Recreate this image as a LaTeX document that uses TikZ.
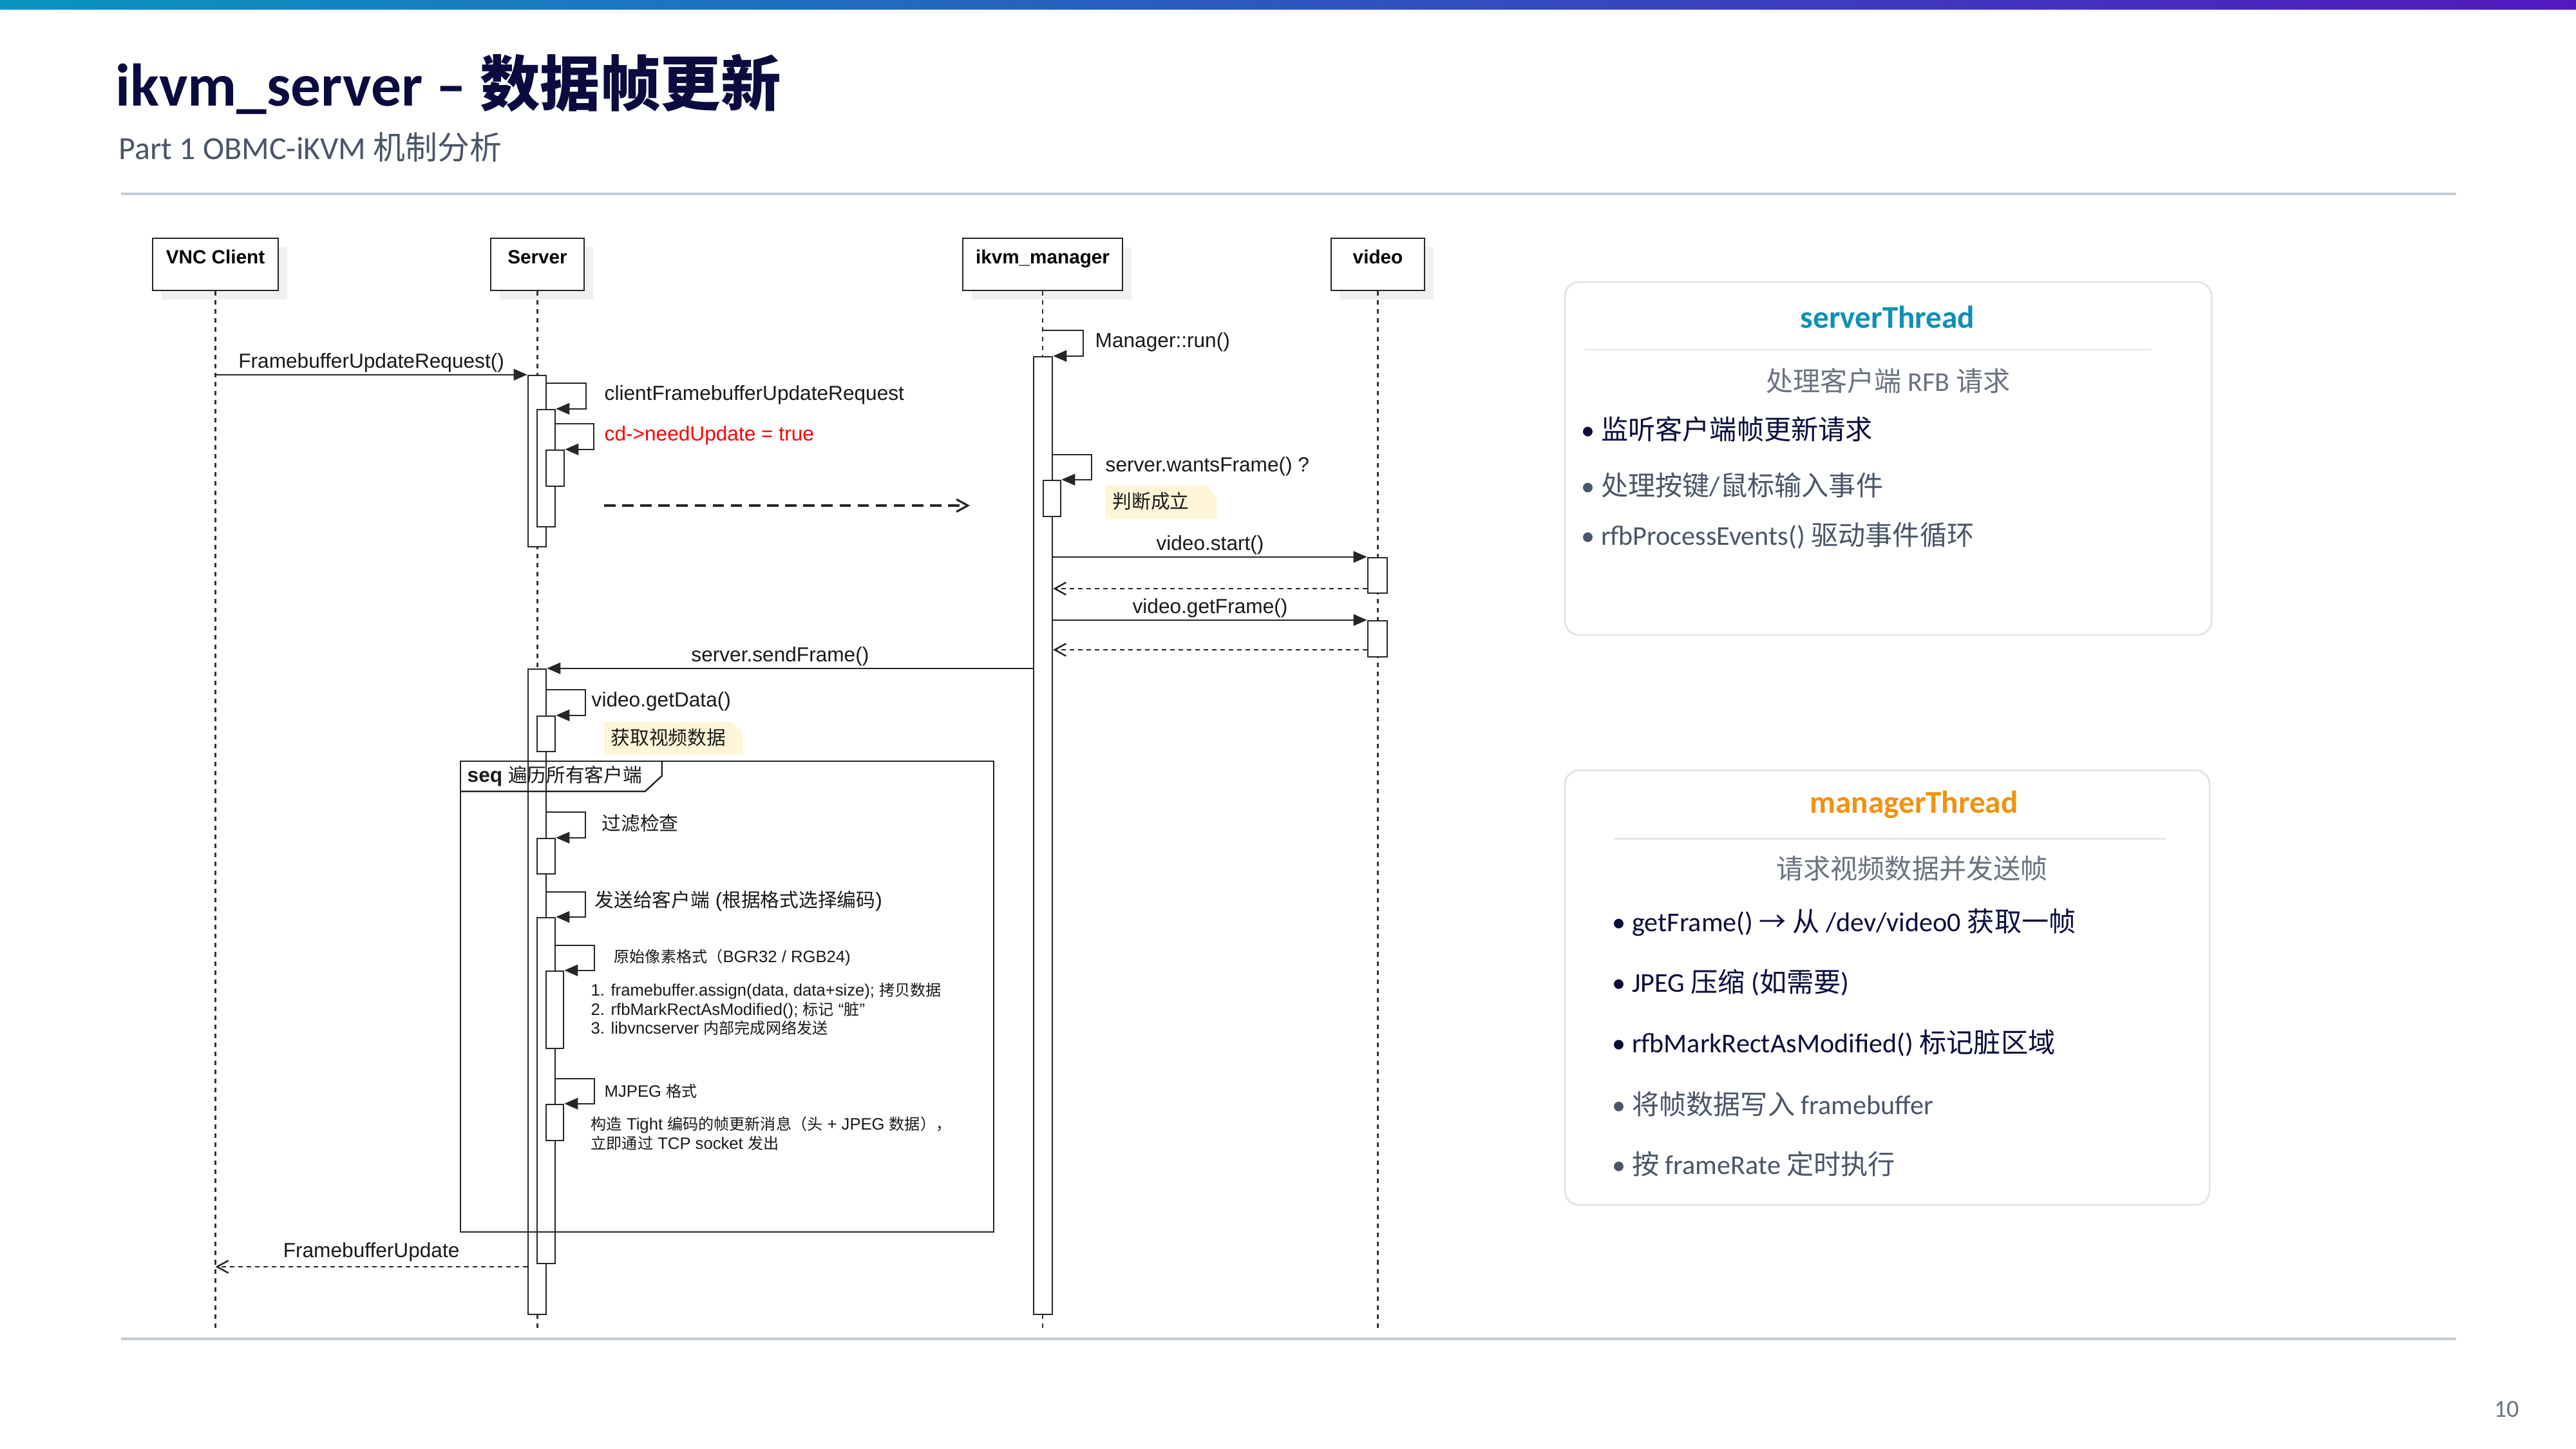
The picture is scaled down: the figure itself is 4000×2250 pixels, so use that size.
\documentclass[tikz,border=0pt]{standalone}
\usepackage{fontspec}
\setmainfont{Carlito}
\newfontfamily\umlfont{Liberation Sans}
\newfontfamily\zhfont{Noto Sans CJK SC}
\newfontfamily\zhfontd{Noto Sans CJK SC}[Scale=0.94]
\usetikzlibrary{arrows.meta,fit,shadows}

% Chinese characters are set in the CJK font
\def\zhsel{\zhfont}
\XeTeXinterchartokenstate=1
\newXeTeXintercharclass\zhclass
\newcount\zhc
\def\zhrange#1#2{\zhc=#1\relax\loop\ifnum\zhc<#2\relax\XeTeXcharclass\zhc=\zhclass\advance\zhc by 1\repeat}
\zhrange{"3000}{"3040}
\zhrange{"4E00}{"A000}
\zhrange{"FF00}{"FFF0}
\XeTeXcharclass"2192=\zhclass
\XeTeXinterchartoks 0 \zhclass={\begingroup\zhsel}
\XeTeXinterchartoks 4095 \zhclass={\begingroup\zhsel}
\XeTeXinterchartoks \zhclass 0={\endgroup}
\XeTeXinterchartoks \zhclass 4095={\endgroup}

\definecolor{navy}{HTML}{0B0B3F}
\definecolor{slate}{HTML}{4A5568}
\definecolor{grey6}{HTML}{6B7280}
\definecolor{rule}{HTML}{C5CCD8}
\definecolor{panelline}{HTML}{E1E5EC}
\definecolor{tealc}{HTML}{0E8FBA}
\definecolor{orangec}{HTML}{F0920E}
\definecolor{notebg}{HTML}{FFF5D8}
\definecolor{barl}{HTML}{0A94C0}
\definecolor{barm}{HTML}{3A62C5}
\definecolor{barr}{HTML}{5218BE}

\tikzstyle{head}=[
    draw=black!85,
    fill=white,
    line width=0.7pt,
    inner xsep=0pt,
    inner ysep=0pt,
    text height=3.97mm,
    text depth=4.13mm,
    font=\umlfont\bfseries\fontsize{8.45}{10}\selectfont,
    drop shadow={shadow xshift=1.4mm, shadow yshift=-1.4mm, fill=black!6, opacity=1}
]
\tikzstyle{lifeline}=[
    draw=black!80,
    line width=0.6pt,
    dash pattern=on 2pt off 2pt
]
\tikzstyle{act}=[
    draw=black!85,
    fill=white,
    line width=0.7pt,
    inner sep=0pt
]
\tikzstyle{msg}=[
    draw=black!85,
    line width=0.7pt,
    -{Triangle[length=6pt,width=5pt]}
]
\tikzstyle{ret}=[
    draw=black!85,
    line width=0.7pt,
    dash pattern=on 2pt off 1.7pt,
    -{Straight Barb[length=5pt,width=5.5pt]}
]
\tikzstyle{lbl}=[
    inner sep=0pt,
    text=black!90,
    font=\umlfont\let\zhsel\zhfontd\fontsize{9}{11}\selectfont
]
\tikzstyle{small}=[
    inner sep=0pt,
    text=black!90,
    align=left,
    font=\umlfont\let\zhsel\zhfontd\fontsize{7.3}{8.5}\selectfont
]
\tikzstyle{panel}=[
    draw=panelline,
    line width=0.85pt,
    fill=white,
    rounded corners=2.2mm,
    inner sep=0pt
]
\tikzstyle{ptitle}=[
    inner sep=0pt,
    font=\bfseries\fontsize{14}{16}\selectfont
]
\tikzstyle{psub}=[
    inner sep=0pt,
    text=grey6,
    font=\fontsize{12}{14}\selectfont
]
\tikzstyle{pitem}=[
    inner sep=0pt,
    anchor=west,
    font=\fontsize{12}{14}\selectfont
]

\begin{document}
\begin{tikzpicture}[x=0.1mm,y=-0.1mm]
\fill[white] (0,0) rectangle (4000,2250);
\useasboundingbox (0,0) rectangle (4000,2250);
\shade[left color=barl, middle color=barm, right color=barr] (0,0) rectangle (4000,15);

\node[anchor=base west, inner sep=0pt, text=navy, font=\bfseries\fontsize{26.6}{30}\selectfont] (title) at (179,165) {ikvm\_server – 数据帧更新};
\node[anchor=base west, inner sep=0pt, text=slate, font=\fontsize{14.2}{16}\selectfont] (subtitle) at (184,248) {Part 1 OBMC-iKVM 机制分析};
\draw[rule, line width=1.1pt] (188,301) -- (3814,301);
\draw[rule, line width=1.1pt] (188,2079) -- (3814,2079);
\node[text=grey6, inner sep=0pt, font=\fontsize{10.8}{13}\selectfont] (page) at (3892,2188) {10};

% thread panels
\node[panel, fit={(2430,438) (3434,986)}] (p1) {};
\node[ptitle, text=tealc] (t1) at (2931,492) {serverThread};
\draw[panelline, line width=0.85pt] (2461,543) -- (3341,543);
\node[psub] (st1) at (2932,591) {处理客户端 RFB 请求};
\node[pitem, text=navy] (b11) at (2455,666) {• 监听客户端帧更新请求};
\node[pitem, text=slate] (b12) at (2455,753) {• 处理按键/鼠标输入事件};
\node[pitem, text=slate] (b13) at (2455,832) {• rfbProcessEvents() 驱动事件循环};

\node[panel, fit={(2430,1196) (3431,1871)}] (p2) {};
\node[ptitle, text=orangec] (t2) at (2972,1249) {managerThread};
\draw[panelline, line width=0.85pt] (2507,1302) -- (3363,1302);
\node[psub] (st2) at (2969,1349) {请求视频数据并发送帧};
\node[pitem, text=navy] (b21) at (2503,1432) {• getFrame() → 从 /dev/video0 获取一帧};
\node[pitem, text=navy] (b22) at (2503,1526) {• JPEG 压缩 (如需要)};
\node[pitem, text=navy] (b23) at (2503,1620) {• rfbMarkRectAsModified() 标记脏区域};
\node[pitem, text=slate] (b24) at (2503,1714) {• 将帧数据写入 framebuffer};
\node[pitem, text=slate] (b25) at (2503,1807) {• 按 frameRate 定时执行};

% lifelines
\node[head, minimum width=19.5mm] (vnc) at (334.5,410.5) {VNC Client};
\node[head, minimum width=14.5mm] (srv) at (834.5,410.5) {Server};
\node[head, minimum width=24.8mm] (mgr) at (1619,410.5) {ikvm\_manager};
\node[head, minimum width=14.5mm] (vid) at (2139.5,410.5) {video};
\coordinate (bot) at (0,2066);
\draw[lifeline] (vnc.south) -- (vnc.south |- bot);
\draw[lifeline] (srv.south) -- (srv.south |- bot);
\draw[lifeline] (mgr.south) -- (mgr.south |- bot);
\draw[lifeline] (vid.south) -- (vid.south |- bot);

% activations
\node[act, fit={(820,583) (848,849)}] (s1) {};
\node[act, fit={(834,636) (862,818)}] (s2) {};
\node[act, fit={(848,699) (876,755)}] (s3) {};
\node[act, fit={(820,1039) (848,2041)}] (s4) {};
\node[act, fit={(834,1112) (862,1167)}] (s5) {};
\node[act, fit={(834,1302) (862,1357)}] (s6) {};
\node[act, fit={(834,1425) (862,1962)}] (s7) {};
\node[act, fit={(848,1508) (875,1628)}] (s8) {};
\node[act, fit={(848,1715) (875,1771)}] (s9) {};
\node[act, fit={(1605,554) (1634,2041)}] (m1) {};
\node[act, fit={(1620,746) (1647,802)}] (m2) {};
\node[act, fit={(2124,866) (2154,921)}] (v1) {};
\node[act, fit={(2124,964) (2154,1020)}] (v2) {};

% messages
\draw[msg] (vnc.south |- s1.north) -- node[lbl, midway, anchor=base, yshift=3pt] (fbur) {FramebufferUpdateRequest()} (s1.north west);
\draw[msg] (s1.east |- s2.north) ++(0,-40) -- ++(61,0) -- ++(0,40) -- (s2.north east);
\draw[msg] (s2.east |- s3.north) ++(0,-40) -- ++(59,0) -- ++(0,40) -- (s3.north east);
\coordinate (d1) at (938,785);
\coordinate (d2) at (1506,785);
\draw[ret, dash pattern=on 5pt off 3pt, line width=0.9pt] (d1) -- (d2);

\draw[msg] (mgr.south |- m1.north) ++(0,-40) -- ++(63,0) -- ++(0,40) -- (m1.north east);
\draw[msg] (m1.east |- m2.north) ++(0,-39) -- ++(60,0) -- ++(0,39) -- (m2.north east);
\draw[msg] (m1.east |- v1.north) -- node[lbl, midway, anchor=base, yshift=3pt] (vstart) {video.start()} (v1.north west);
\draw[ret] (v1.west |- 0,914) -- (m1.east |- 0,914);
\draw[msg] (m1.east |- v2.north) -- node[lbl, midway, anchor=base, yshift=3pt] (vget) {video.getFrame()} (v2.north west);
\draw[ret] (v2.west |- 0,1009) -- (m1.east |- 0,1009);
\draw[msg] (m1.west |- s4.north) -- node[lbl, pos=0.52, anchor=base, yshift=3pt] (send) {server.sendFrame()} (s4.north east);

\draw[msg] (s4.east |- s5.north) ++(0,-40) -- ++(60,0) -- ++(0,40) -- (s5.north east);
\draw[msg] (s4.east |- s6.north) ++(0,-40) -- ++(60,0) -- ++(0,40) -- (s6.north east);
\draw[msg] (s4.east |- s7.north) ++(0,-39) -- ++(60,0) -- ++(0,39) -- (s7.north east);
\draw[msg] (s7.east |- s8.north) ++(0,-39) -- ++(60,0) -- ++(0,39) -- (s8.north east);
\draw[msg] (s7.east |- s9.north) ++(0,-39) -- ++(60,0) -- ++(0,39) -- (s9.north east);
\draw[ret] (s4.west |- 0,1967) -- node[lbl, midway, anchor=base, yshift=4pt] (fbu) {FramebufferUpdate} (vnc.south |- 0,1967);

% notes
\fill[notebg] (1717,753) -- (1872,753) -- (1889,772) -- (1889,806) -- (1717,806) -- cycle;
\fill[notebg] (938,1121) -- (1137,1121) -- (1153,1137) -- (1153,1171) -- (938,1171) -- cycle;
\node[lbl, anchor=west] (n1) at (1727,778) {判断成立};
\node[lbl, anchor=west] (n2) at (948,1145) {获取视频数据};

% loop frame
\node[draw=black!85, line width=0.7pt, inner sep=0pt, fit={(715,1182) (1543,1913)}] (seq) {};
\draw[black!85, line width=0.7pt] (seq.north west) ++(314,0) -- ++(0,24) -- ++(-26,24) -- ++(-288,0);
\node[lbl, anchor=west] (seqlbl) at (725,1205) {\textbf{seq} 遍历所有客户端};

% call labels
\node[lbl, anchor=west] (l1) at (938,613) {clientFramebufferUpdateRequest};
\node[lbl, anchor=west, text=red] (l2) at (938,676) {cd->needUpdate = true};
\node[lbl, anchor=west] (l3) at (1700,531) {Manager::run()};
\node[lbl, anchor=west] (l4) at (1716,724) {server.wantsFrame() ?};
\node[lbl, anchor=west] (l5) at (918,1089) {video.getData()};
\node[lbl, anchor=west] (l6) at (934,1278) {过滤检查};
\node[lbl, anchor=west] (l7) at (923,1399) {发送给客户端 (根据格式选择编码)};
\node[small, anchor=west] (l8) at (953,1487) {原始像素格式（BGR32 / RGB24)};
\node[small, anchor=west] (l9) at (917,1567) {1. framebuffer.assign(data, data+size); 拷贝数据\\2. rfbMarkRectAsModified();  标记 “脏”\\3. libvncserver 内部完成网络发送};
\node[small, anchor=west] (l10) at (938,1694) {MJPEG 格式};
\node[small, anchor=west] (l11) at (917,1760) {构造 Tight 编码的帧更新消息（头 + JPEG 数据），\\立即通过 TCP socket 发出};
\end{tikzpicture}
\end{document}
